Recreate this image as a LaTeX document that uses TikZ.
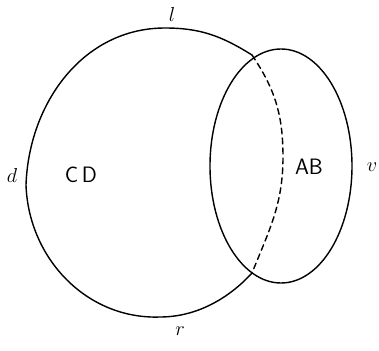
\documentclass[tikz,border=0pt]{standalone}
\begin{document}
\begin{tikzpicture}[x=0.03cm,y=0.03cm,line cap=round,line join=round,line width=1.2pt,font=\fontsize{19}{21}\selectfont]
\useasboundingbox (0,0) rectangle (379,350);
\coordinate (I1) at (252,295);
\coordinate (T) at (165,322);
\coordinate (L) at (26,165);
\coordinate (B) at (160,33);
\coordinate (I2) at (252,77);
\coordinate (R) at (283,193);
\draw (I1) to[out=148,in=0] (T) to[out=180,in=88] (L) to[out=272,in=182] (B) .. controls (200,33) and (232,55) .. (I2);
\draw[dash pattern=on 5pt off 3.5pt] (I1) to[out=-56,in=90] (R) to[out=-90,in=68] (I2);
\draw (281,184) ellipse[x radius=71,y radius=117];
\node (l) at (172,336){$l$};
\node (d) at (12,175){$d$};
\node (cd) at (81,175){\sffamily C\,D};
\node (ab) at (309,183){\sffamily AB};
\node (v) at (372,183){$v$};
\node (r) at (180,19){$r$};
\end{tikzpicture}
\end{document}
